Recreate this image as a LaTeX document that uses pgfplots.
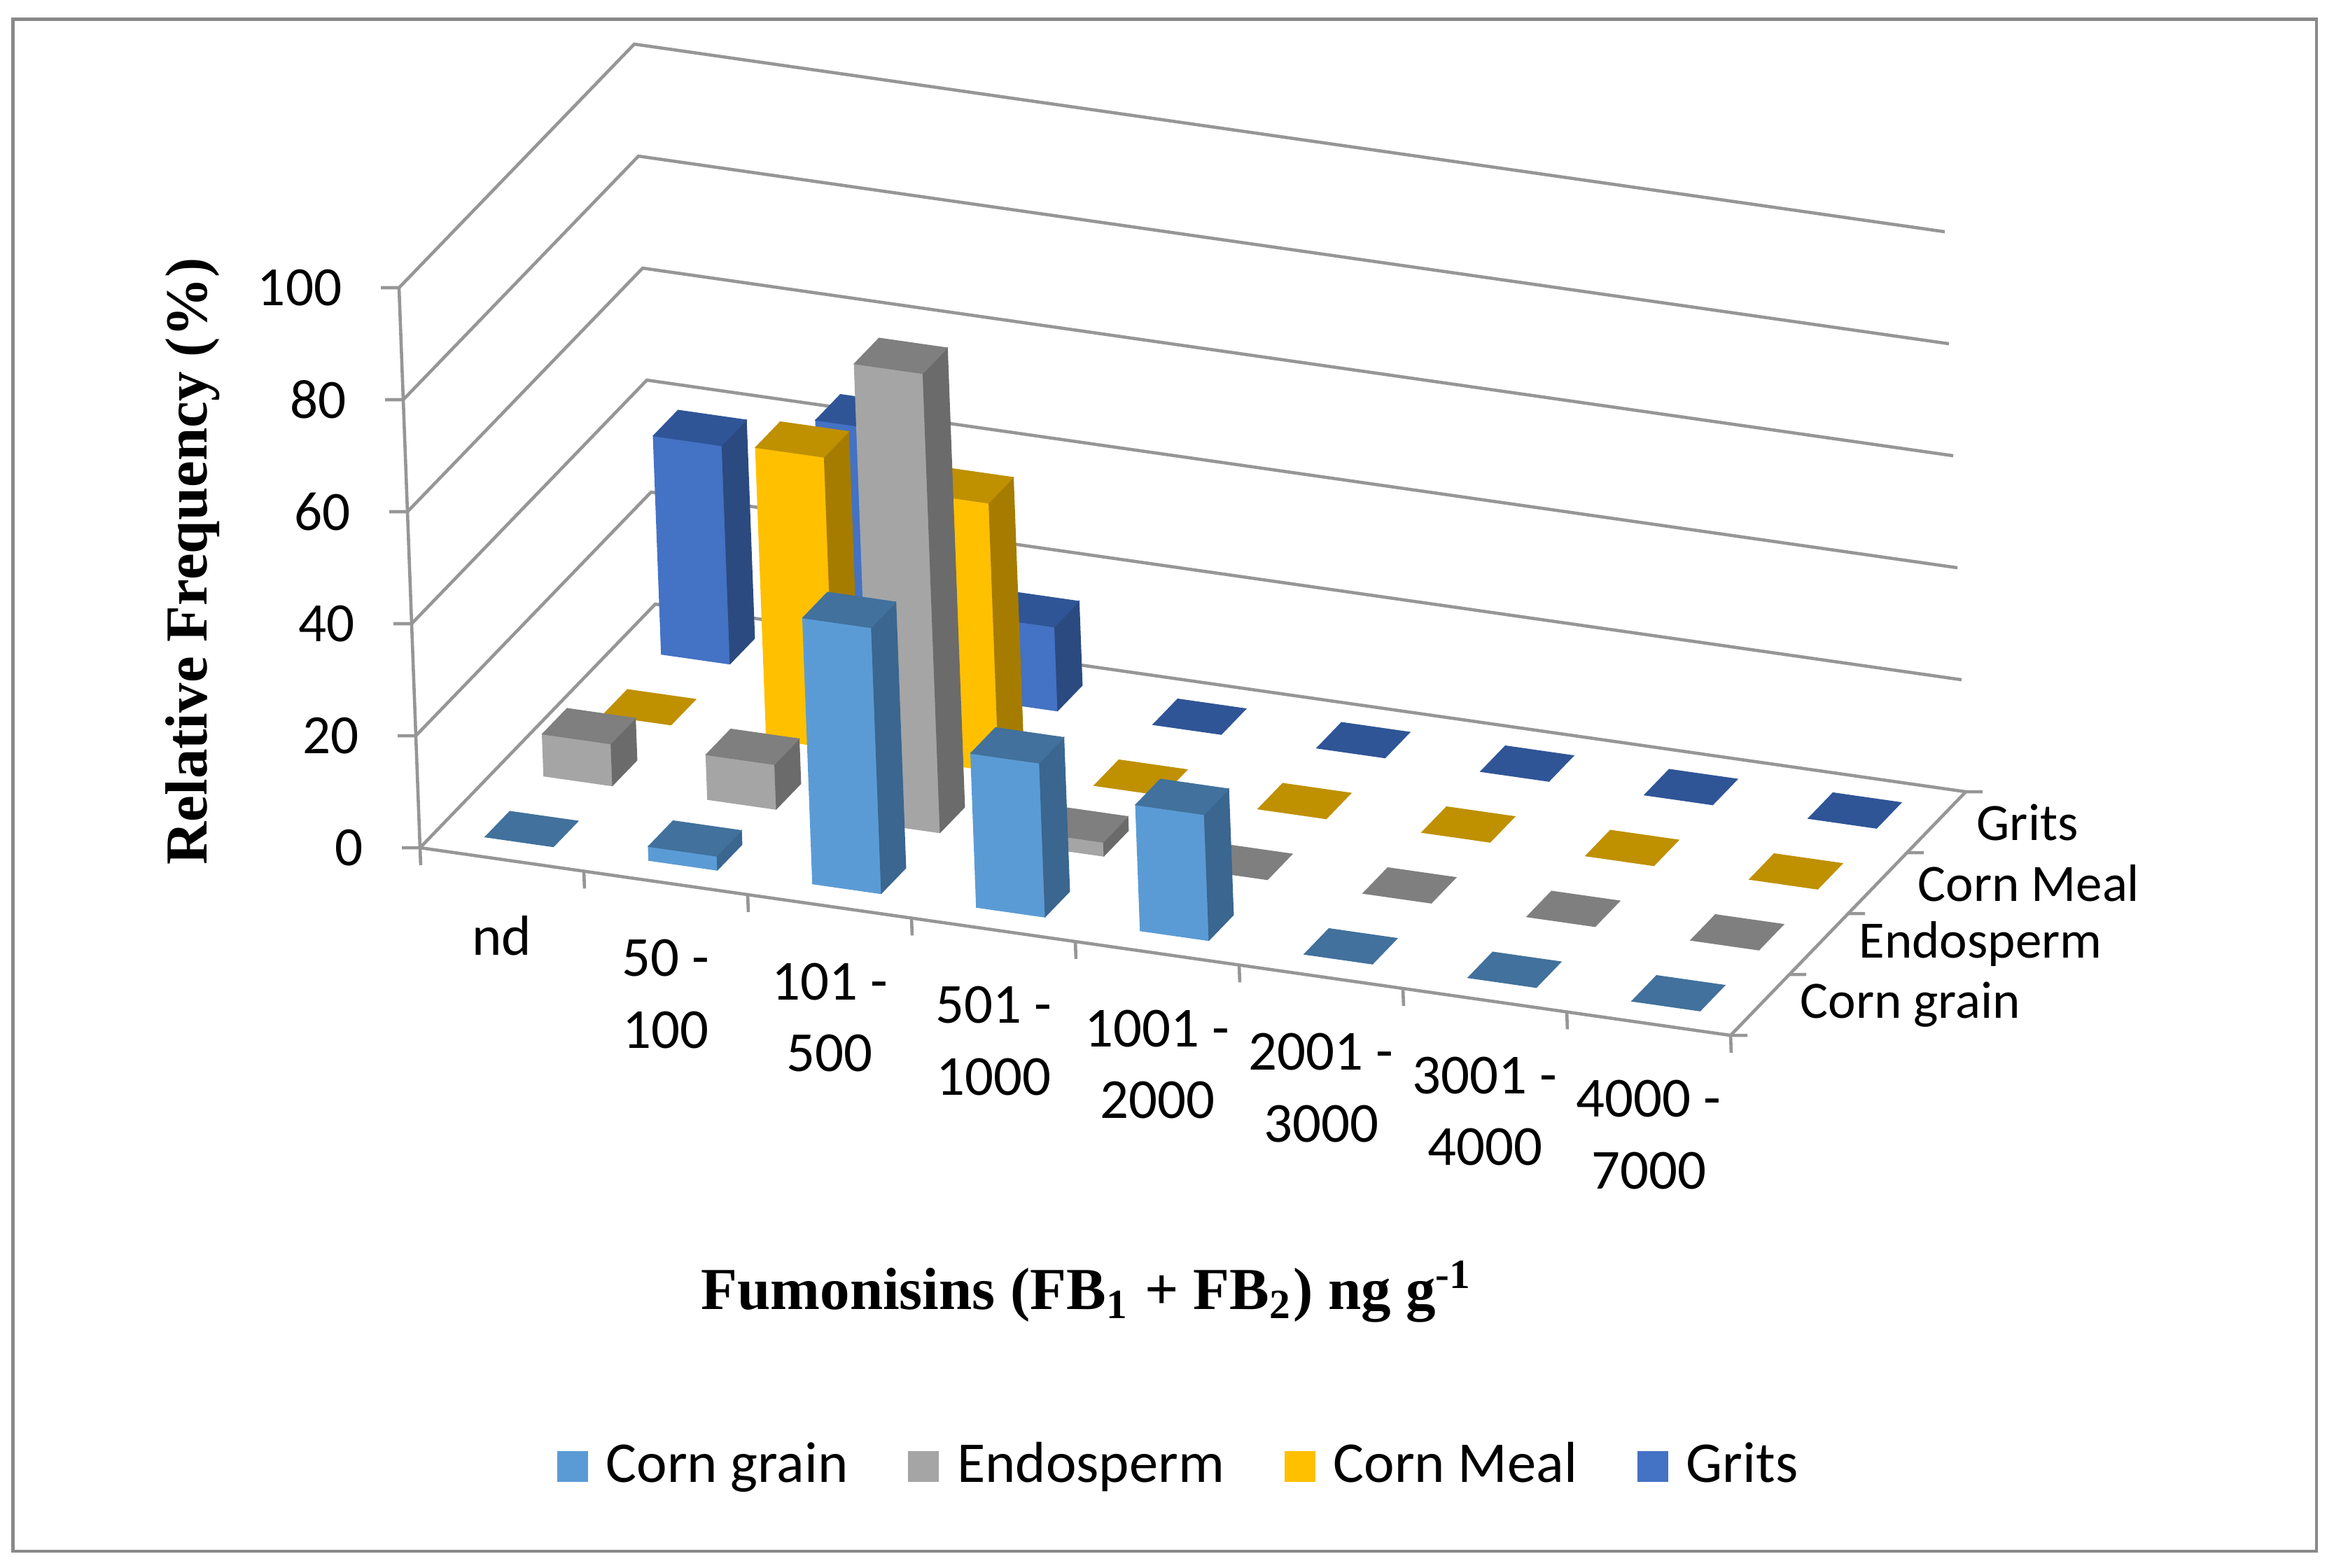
\documentclass[border=0pt]{standalone}
\usepackage{fontspec}
\setmainfont{Carlito}
\newfontfamily\serifb{Liberation Serif}
\usepackage{pgfplots}
\pgfplotsset{compat=1.18}

\definecolor{cgF}{HTML}{5B9BD5}\definecolor{cgS}{HTML}{3A6690}\definecolor{cgT}{HTML}{41719C}
\definecolor{enF}{HTML}{A5A5A5}\definecolor{enS}{HTML}{6B6B6B}\definecolor{enT}{HTML}{7F7F7F}
\definecolor{cmF}{HTML}{FFC000}\definecolor{cmS}{HTML}{A57C00}\definecolor{cmT}{HTML}{BF9000}
\definecolor{grF}{HTML}{4472C4}\definecolor{grS}{HTML}{2B4A80}\definecolor{grT}{HTML}{2F5597}
\definecolor{gridc}{RGB}{150,150,150}
\definecolor{brd}{RGB}{137,137,137}

\newcommand\ttl{\serifb\bfseries\fontsize{10.2}{12}\selectfont}

% one bar: #1 category index, #2 row index, #3 value (%), #4 colour prefix
\newcommand{\cbar}[4]{%
  \pgfmathsetmacro\bXa{#1+0.29}\pgfmathsetmacro\bXb{#1+0.71}%
  \pgfmathsetmacro\bYa{#2+0.29}\pgfmathsetmacro\bYb{#2+0.71}%
  \ifdim #3pt>0pt
    \edef\tmp{\noexpand\addplot3[forget plot, fill=#4F, draw=#4F, line width=0.15pt] coordinates {(\bXa,\bYa,0) (\bXb,\bYa,0) (\bXb,\bYa,#3) (\bXa,\bYa,#3)};}\tmp
    \edef\tmp{\noexpand\addplot3[forget plot, fill=#4S, draw=#4S, line width=0.15pt] coordinates {(\bXb,\bYa,0) (\bXb,\bYb,0) (\bXb,\bYb,#3) (\bXb,\bYa,#3)};}\tmp
  \fi
  \edef\tmp{\noexpand\addplot3[forget plot, fill=#4T, draw=#4T, line width=0.15pt] coordinates {(\bXa,\bYa,#3) (\bXb,\bYa,#3) (\bXb,\bYb,#3) (\bXa,\bYb,#3)};}\tmp
}

\begin{document}
\begin{tikzpicture}
\useasboundingbox (0,0) rectangle (400.08pt,-268.68pt);
\draw[brd, line width=0.55pt] (2.22pt,-3.3pt) rectangle (397.08pt,-265.92pt);
\begin{axis}[
  at={(72pt,-145.32pt)}, anchor=origin,
  x={(28.08pt,-4.02pt)}, y={(10.08pt,10.44pt)}, z={(-0.036pt,0.96pt)},
  xmin=0, xmax=8, ymin=0, ymax=4, zmin=0, zmax=100,
  clip=false,
  axis line style={draw=none},
  tick style={draw=none},
  major tick length=0pt,
  minor tick num=0,
  xtick={0.5,1.5,2.5,3.5,4.5,5.5,6.5,7.5},
  xticklabels={nd,{50 -\\100},{101 -\\500},{501 -\\1000},{1001 -\\2000},{2001 -\\3000},{3001 -\\4000},{4000 -\\7000}},
  ytick={0.5,1.5,2.5,3.5},
  yticklabels={Corn grain,Endosperm,Corn Meal,Grits},
  ztick={0,20,40,60,80,100},
  /pgf/number format/assume math mode=true,
  ticklabel style={inner sep=0pt},
  xticklabel style={anchor=north, align=center, yshift=-9.5pt, font=\fontsize{9.7}{12.3}\selectfont},
  yticklabel style={anchor=west, xshift=6.7pt, font=\fontsize{9.0}{11}\selectfont},
  zticklabel style={anchor=east, xshift=-9.6pt, font=\fontsize{9.5}{11.4}\selectfont},
  xlabel={Fumonisins (FB\textsubscript{1} + FB\textsubscript{2}) ng g\textsuperscript{-1}},
  zlabel={Relative Frequency (\%)},
  every axis x label/.style={at={(axis description cs:0.4392,-0.2585)}, anchor=center, font=\ttl},
  every axis z label/.style={at={(axis description cs:-0.1318,0.4781)}, anchor=center, rotate=90, font=\ttl},
  legend style={at={(axis description cs:0.4982,-0.435)}, anchor=center, draw=none, fill=none,
    legend columns=4, font=\fontsize{9.9}{11.8}\selectfont, nodes={inner sep=0.7pt},
    /tikz/every odd column/.append style={column sep=2.4pt},
    /tikz/every even column/.append style={column sep=9.6pt}},
  legend cell align=left,
  legend image code/.code={\path[#1] (0pt,-2.64pt) rectangle (5.28pt,2.64pt);},
]
% walls: horizontal gridlines on the left and back walls
\pgfplotsinvokeforeach{0,20,40,60,80,100}{%
  \addplot3[forget plot, gridc, line width=0.55pt] coordinates {(0,0,#1) (0,4,#1) (8,4,#1)};
}
% front axis lines
\addplot3[forget plot, gridc, line width=0.55pt] coordinates {(0,0,100) (0,0,0) (8,0,0) (8,4,0)};
% tick marks
\pgfplotsinvokeforeach{0,1,2,3,4,5,6,7,8}{%
  \addplot3[forget plot, gridc, line width=0.55pt] coordinates {(#1,0,0) (#1,0,-3.1)};
}
\pgfplotsinvokeforeach{0,20,40,60,80,100}{%
  \addplot3[forget plot, gridc, line width=0.55pt] coordinates {(0,0,#1) (-0.0976,-0.0376,#1)};
}
\pgfplotsinvokeforeach{0,1,2,3,4}{%
  \addplot3[forget plot, gridc, line width=0.55pt] coordinates {(8,#1,0) (8.0901,#1+0.0347,0)};
}
% bars, drawn from back to front
\cbar{0}{3}{39}{gr}
\cbar{1}{3}{46}{gr}
\cbar{2}{3}{15}{gr}
\cbar{0}{2}{0}{cm}
\cbar{3}{3}{0}{gr}
\cbar{1}{2}{52}{cm}
\cbar{4}{3}{0}{gr}
\cbar{2}{2}{48}{cm}
\cbar{5}{3}{0}{gr}
\cbar{0}{1}{7.5}{en}
\cbar{3}{2}{0}{cm}
\cbar{6}{3}{0}{gr}
\cbar{1}{1}{8}{en}
\cbar{4}{2}{0}{cm}
\cbar{7}{3}{0}{gr}
\cbar{2}{1}{82}{en}
\cbar{5}{2}{0}{cm}
\cbar{0}{0}{0}{cg}
\cbar{3}{1}{2.5}{en}
\cbar{6}{2}{0}{cm}
\cbar{1}{0}{2.5}{cg}
\cbar{4}{1}{0}{en}
\cbar{7}{2}{0}{cm}
\cbar{2}{0}{47.5}{cg}
\cbar{5}{1}{0}{en}
\cbar{3}{0}{27.5}{cg}
\cbar{6}{1}{0}{en}
\cbar{4}{0}{22.5}{cg}
\cbar{7}{1}{0}{en}
\cbar{5}{0}{0}{cg}
\cbar{6}{0}{0}{cg}
\cbar{7}{0}{0}{cg}
\addlegendimage{fill=cgF,draw=none}\addlegendentry{Corn grain}
\addlegendimage{fill=enF,draw=none}\addlegendentry{Endosperm}
\addlegendimage{fill=cmF,draw=none}\addlegendentry{Corn Meal}
\addlegendimage{fill=grF,draw=none}\addlegendentry{Grits}
\end{axis}
\end{tikzpicture}
\end{document}
